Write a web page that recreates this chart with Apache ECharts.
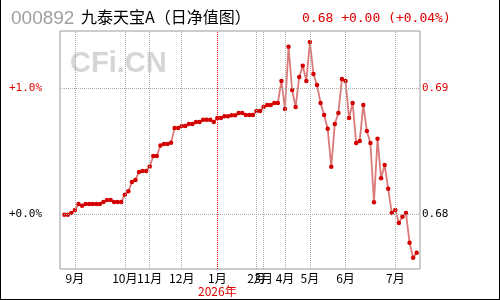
<!DOCTYPE html>
<html>
<head>
<meta charset="utf-8">
<script src="https://cdn.jsdelivr.net/npm/echarts@6/dist/echarts.min.js"></script>
<style>
  body { margin: 0; background: #fff; }
  #wrap { position: relative; width: 500px; height: 300px; }
  #jingzhi { width: 500px; height: 300px; }
  #kuang { position: absolute; left: 0; top: 0; width: 498px; height: 299px;
           border-left: 1px solid #000; border-right: 1px solid #000; border-bottom: 1px solid #000;
           pointer-events: none; }
</style>
</head>
<body>
<div id="wrap">
  <div id="jingzhi"></div>
  <div id="kuang"></div>
</div>
<script>
// 日净值 (按顺序, 每个交易点一个)
var jingzhi = [
    0.67998, 0.67998, 0.68013, 0.68037, 0.68084, 0.68069, 0.68084, 0.68084, 0.68084, 0.68084,
    0.68084, 0.68100, 0.68116, 0.68116, 0.68100, 0.68100, 0.68100, 0.68156, 0.68184, 0.68258,
    0.68274, 0.68337, 0.68345, 0.68345, 0.68379, 0.68463, 0.68463, 0.68545, 0.68558, 0.68558,
    0.68568, 0.68684, 0.68684, 0.68700, 0.68700, 0.68716, 0.68716, 0.68732, 0.68732, 0.68748,
    0.68748, 0.68748, 0.68732, 0.68763, 0.68763, 0.68776, 0.68776, 0.68784, 0.68784, 0.68803,
    0.68803, 0.68787, 0.68787, 0.68787, 0.68819, 0.68819, 0.68850, 0.68866, 0.68866, 0.68882,
    0.68882, 0.69056, 0.68834, 0.69326, 0.68984, 0.68850, 0.69087, 0.69176, 0.69056, 0.69363,
    0.69111, 0.69024, 0.68882, 0.68787, 0.68677, 0.68377, 0.68716, 0.68803, 0.69071, 0.69056,
    0.68763, 0.68882, 0.68566, 0.68582, 0.68866, 0.68661, 0.68566, 0.68097, 0.68598, 0.68287,
    0.68392, 0.68203, 0.68013, 0.68037, 0.67934, 0.67982, 0.68013, 0.67777, 0.67658, 0.67698
];
// 每月第一个点的位置和月份名
var yueChu = [3, 17, 24, 33, 43, 54, 56, 62, 69, 79, 93];
var yueFen = ['9月', '10月', '11月', '12月', '1月', '2月', '3月', '4月', '5月', '6月', '7月'];
var nianFen = '2026年';
// 纵轴刻度
var yKedu = [0.68, 0.69];
var zuoBiaoqian = ['+0.0%', '+1.0%'];
var youBiaoqian = ['0.68', '0.69'];

var mono = '"DejaVu Sans Mono", monospace';
var cjk = '"Noto Sans CJK SC", sans-serif';

var dianList = jingzhi.map(function (v, i) { return [i, v]; });

var wangge = [];
yueChu.forEach(function (i, k) {
    wangge.push({ xAxis: i, lineStyle: { color: yueFen[k] === '1月' ? '#e00000' : '#aaaaaa' } });
});
yKedu.forEach(function (v) {
    wangge.push({ yAxis: v, lineStyle: { color: '#aaaaaa' } });
});

function keduYanse(v) { return Math.round(v * 100) / 100 === 0.69 ? '#e00000' : '#000'; }

var myChart_jingzhi = echarts.init(document.getElementById('jingzhi'));
var option_jingzhi = {
    animation: false,
    title: [
        { text: '000892', left: 6, top: 4, textStyle: { color: '#a0a0a0', fontSize: 19, fontWeight: 'normal', fontFamily: '"Liberation Sans", Arial, sans-serif' } },
        { text: '九泰天宝A（日净值图）', left: 76, top: 4, textStyle: { color: '#000', fontSize: 16, fontWeight: 'normal', fontFamily: cjk } },
        { text: '0.68 +0.00 (+0.04%)', left: 297, top: 7, textStyle: { color: '#e00000', fontSize: 13, fontWeight: 'normal', fontFamily: mono } }
    ],
    graphic: [
        { type: 'text', left: 70, top: 49, z: 0, style: { text: 'CFi.CN', fill: '#d6d6d6', font: 'bold 29px "Liberation Sans", Arial, sans-serif' } }
    ],
    grid: {
        left: 60, right: 80, top: 31, bottom: 31,
        show: true, borderColor: '#999', borderWidth: 1, backgroundColor: 'transparent'
    },
    xAxis: {
        type: 'value',
        min: -1.2,
        max: 99.93,
        axisLine: { show: false },
        axisTick: { show: false },
        splitLine: { show: false },
        axisLabel: {
            customValues: yueChu,
            margin: 2,
            color: '#000',
            fontSize: 12,
            fontFamily: cjk,
            lineHeight: 14,
            formatter: function (v) {
                var k = yueChu.indexOf(Math.round(v));
                if (k < 0) return '';
                if (yueFen[k] === '1月') return yueFen[k] + '\n{nian|' + nianFen + '}';
                return yueFen[k];
            },
            rich: { nian: { color: '#e00000', fontSize: 12, fontFamily: cjk, lineHeight: 13 } }
        }
    },
    yAxis: [
        {
            type: 'value', position: 'left', min: 0.6757, max: 0.6945,
            axisLine: { show: false }, axisTick: { show: false }, splitLine: { show: false },
            axisLabel: {
                customValues: yKedu, margin: 18, fontSize: 11, fontFamily: mono,
                formatter: function (v) { return zuoBiaoqian[yKedu.indexOf(Math.round(v * 100) / 100)]; },
                color: keduYanse
            }
        },
        {
            type: 'value', position: 'right', min: 0.6757, max: 0.6945,
            axisLine: { show: false }, axisTick: { show: false }, splitLine: { show: false },
            axisLabel: {
                customValues: yKedu, margin: 2, fontSize: 11, fontFamily: mono,
                formatter: function (v) { return youBiaoqian[yKedu.indexOf(Math.round(v * 100) / 100)]; },
                color: keduYanse
            }
        }
    ],
    series: [
        {
            name: '网格',
            type: 'line',
            z: 1,
            data: dianList,
            symbol: 'none',
            lineStyle: { opacity: 0 },
            silent: true,
            markLine: {
                silent: true,
                symbol: ['none', 'none'],
                label: { show: false },
                lineStyle: { type: 'dotted', width: 1 },
                data: wangge
            }
        },
        {
            name: '净值',
            type: 'line',
            z: 3,
            data: dianList,
            symbol: 'circle',
            symbolSize: 4.5,
            itemStyle: { color: '#d40000' },
            lineStyle: { color: '#dc7a7a', width: 1.8 }
        }
    ]
};

myChart_jingzhi.setOption(option_jingzhi);
</script>
</body>
</html>
